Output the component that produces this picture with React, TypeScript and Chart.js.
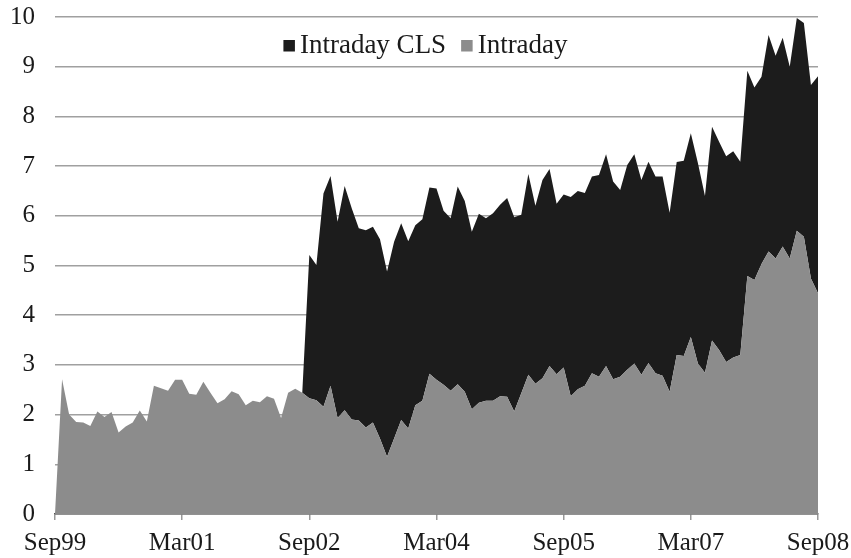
import React, { useEffect, useRef } from 'react';
import { Chart, registerables } from 'chart.js';

Chart.register(...registerables);

// Monthly observations, Sep99 .. Sep08 (109 months)
const tickLabels = ['Sep99', 'Mar01', 'Sep02', 'Mar04', 'Sep05', 'Mar07', 'Sep08'];
const monthsPerTick = 18;

const intraday = [
  0, 2.71, 2.0, 1.85, 1.84, 1.77, 2.06, 1.95, 2.05, 1.64,
  1.76, 1.84, 2.08, 1.86, 2.58, 2.53, 2.48, 2.7, 2.7, 2.42,
  2.4, 2.66, 2.44, 2.23, 2.31, 2.47, 2.41, 2.19, 2.28, 2.25,
  2.37, 2.32, 1.93, 2.44, 2.52, 2.44, 2.33, 2.29, 2.16, 2.58,
  1.93, 2.09, 1.9, 1.88, 1.74, 1.84, 1.52, 1.15, 1.52, 1.89,
  1.72, 2.19, 2.28, 2.82, 2.7, 2.6, 2.48, 2.61, 2.46, 2.11,
  2.24, 2.28, 2.28, 2.37, 2.36, 2.06, 2.43, 2.8, 2.62, 2.73,
  2.98, 2.81, 2.95, 2.37, 2.51, 2.58, 2.83, 2.76, 2.98, 2.71,
  2.76, 2.9, 3.03, 2.8, 3.04, 2.83, 2.78, 2.46, 3.2, 3.18,
  3.56, 3.03, 2.84, 3.49, 3.3, 3.06, 3.15, 3.2, 4.79, 4.71,
  5.03, 5.28, 5.14, 5.38, 5.14, 5.7, 5.58, 4.74, 4.44,
];

const intradayCLS = [
  0, 0, 0, 0, 0, 0, 0, 0, 0, 0,
  0, 0, 0, 0, 0, 0, 0, 0, 0, 0,
  0, 0, 0, 0, 0, 0, 0, 0, 0, 0,
  0, 0, 0, 0, 0, 0, 2.88, 2.72, 4.29, 4.22,
  3.95, 4.51, 4.25, 3.87, 3.97, 3.94, 4.01, 3.73, 3.96, 3.96,
  3.77, 3.62, 3.65, 3.75, 3.85, 3.5, 3.47, 3.98, 3.84, 3.57,
  3.8, 3.67, 3.77, 3.85, 4.0, 3.91, 3.59, 4.04, 3.58, 3.99,
  3.96, 3.43, 3.48, 4.01, 3.99, 3.88, 3.96, 4.06, 4.26, 3.98,
  3.76, 4.12, 4.21, 3.92, 4.05, 3.96, 4.01, 3.6, 3.88, 3.93,
  4.1, 4.03, 3.56, 4.3, 4.19, 4.14, 4.15, 3.89, 4.13, 3.87,
  3.77, 4.36, 4.08, 4.2, 3.86, 4.28, 4.3, 3.89, 4.37,
];

const FONT_FAMILY = "'Liberation Serif', 'DejaVu Serif', serif";
const TEXT_COLOR = '#1a1a1a';
const GRAY = '#8c8c8c';
const BLACK = '#1c1c1c';

const legendPlugin = {
  id: 'insideLegend',
  afterDraw(chart: any) {
    const ctx = chart.ctx;
    const items = chart.data.datasets.slice().reverse();
    ctx.save();
    ctx.font = `27px ${FONT_FAMILY}`;
    ctx.textBaseline = 'alphabetic';
    const box = 11.5;
    const gapBoxText = 5;
    const gapItems = 15;
    const widths = items.map((d: any) => ctx.measureText(d.label).width);
    let total = 0;
    widths.forEach((w: number, i: number) => {
      total += box + gapBoxText + w + (i < widths.length - 1 ? gapItems : 0);
    });
    let x = chart.width / 2 - total / 2;
    items.forEach((d: any, i: number) => {
      ctx.fillStyle = d.backgroundColor;
      ctx.fillRect(x, 40, box, box);
      x += box + gapBoxText;
      ctx.fillStyle = TEXT_COLOR;
      ctx.fillText(d.label, x, 52.5);
      x += widths[i] + gapItems;
    });
    ctx.restore();
  },
};

export default function App() {
  const canvasRef = useRef<HTMLCanvasElement | null>(null);

  useEffect(() => {
    document.body.style.margin = '0';
    const canvas = canvasRef.current;
    if (!canvas) return;
    const toPoints = (arr: number[]) => arr.map((v, i) => ({ x: i, y: v }));
    const chart = new Chart(canvas, {
      type: 'line',
      data: {
        datasets: [
          {
            label: 'Intraday',
            data: toPoints(intraday),
            backgroundColor: GRAY,
            borderColor: GRAY,
            borderWidth: 0,
            pointRadius: 0,
            fill: 'origin',
            tension: 0,
          },
          {
            label: 'Intraday CLS',
            data: toPoints(intradayCLS),
            backgroundColor: BLACK,
            borderColor: BLACK,
            borderWidth: 0,
            pointRadius: 0,
            fill: '-1',
            tension: 0,
          },
        ],
      },
      options: {
        animation: false,
        responsive: true,
        maintainAspectRatio: false,
        layout: { padding: { top: 17, right: 33, left: 0, bottom: 0 } },
        plugins: {
          legend: { display: false },
          tooltip: { enabled: false },
        },
        scales: {
          x: {
            type: 'linear',
            min: 0,
            max: (tickLabels.length - 1) * monthsPerTick,
            ticks: {
              stepSize: monthsPerTick,
              autoSkip: false,
              maxRotation: 0,
              padding: 8,
              color: TEXT_COLOR,
              font: { family: FONT_FAMILY, size: 25 },
              callback: (v: any) => tickLabels[Math.round(Number(v) / monthsPerTick)],
            },
            grid: {
              drawOnChartArea: false,
              drawTicks: true,
              tickLength: 6,
              color: '#999999',
              lineWidth: 1.5,
            },
            border: { display: true, color: '#555555', width: 1.5 },
            afterFit: (s: any) => {
              s.height = 44;
              s.paddingLeft = 0;
              s.paddingRight = 0;
            },
          },
          y: {
            stacked: true,
            min: 0,
            max: 10,
            ticks: {
              stepSize: 1,
              padding: 20,
              color: TEXT_COLOR,
              font: { family: FONT_FAMILY, size: 25 },
            },
            grid: { color: '#a0a0a0', lineWidth: 1.5, drawTicks: false },
            border: { display: false },
            afterFit: (s: any) => {
              s.width = 55;
              s.paddingTop = 0;
              s.paddingBottom = 0;
            },
          },
        },
      },
      plugins: [legendPlugin],
    });
    return () => chart.destroy();
  }, []);

  return (
    <div style={{ width: 851, height: 558, position: 'relative', background: '#ffffff' }}>
      <canvas ref={canvasRef} />
    </div>
  );
}
